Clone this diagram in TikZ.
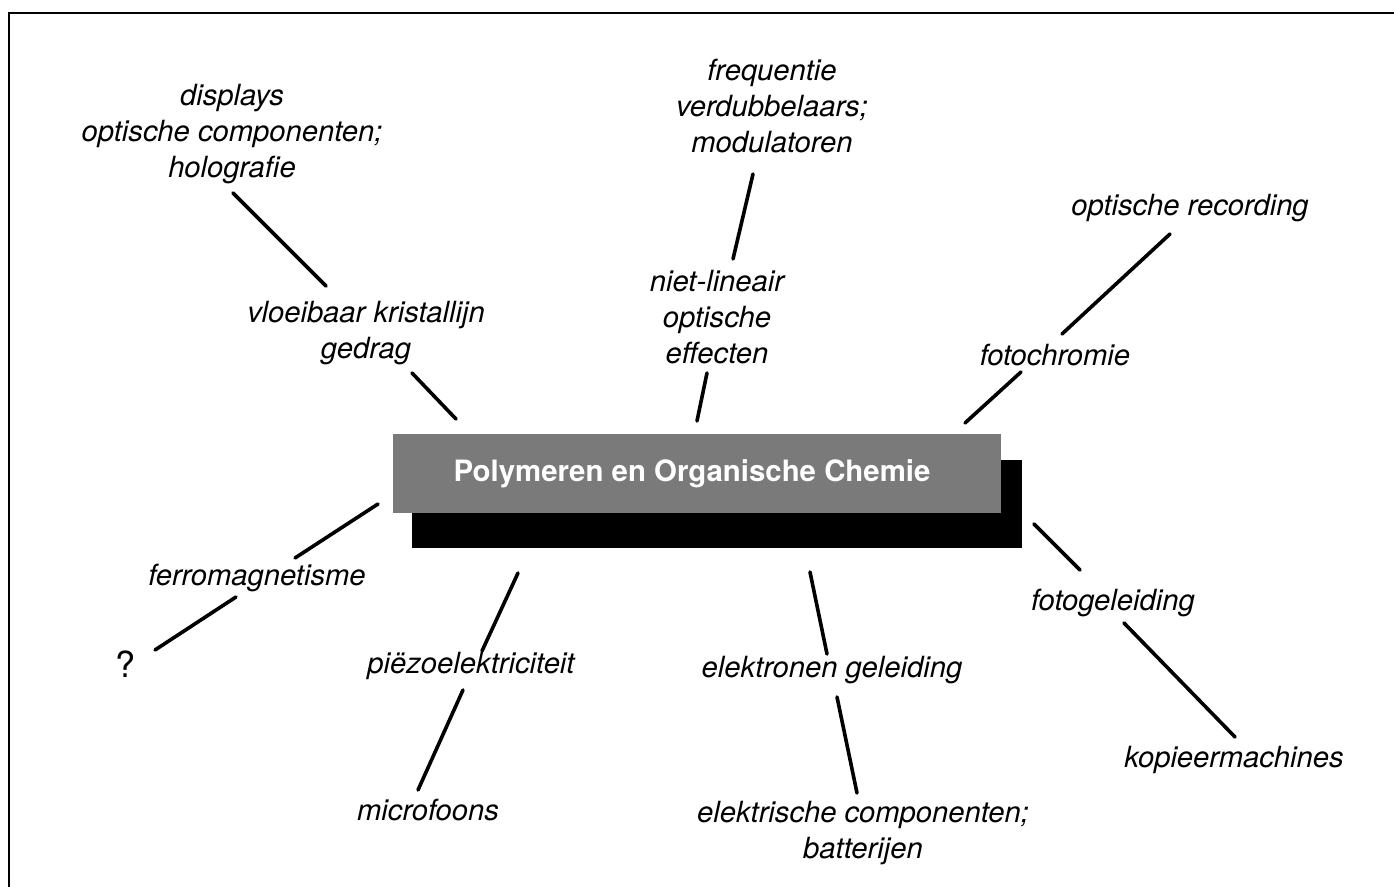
\documentclass[tikz,border=0pt]{standalone}
\usepackage{fontspec}
\setmainfont{TeX Gyre Heros}
\begin{document}
\begin{tikzpicture}[x=0.5pt,y=-0.5pt,
  lbl/.style={font=\fontsize{14.6}{18}\selectfont\itshape, align=center, inner sep=0pt},
  conn/.style={line width=1.8pt, line cap=round},
  frame/.style={line width=1pt}]
\useasboundingbox (0,0) rectangle (1394,887);
% frame
\coordinate (f1) at (9,887);
\coordinate (f2) at (9,13);
\coordinate (f3) at (1394,13);
\draw[frame] (f1) -- (f2) -- (f3);
% central box
\fill[black] (412,460) rectangle (1022,548);
\node[fill=black!52, minimum width=608*0.5pt, minimum height=79*0.5pt, inner sep=0pt,
  font=\fontsize{14.7}{17}\selectfont\bfseries, text=white] (box) at (697,473.5)
  {\hspace*{-5pt}Polymeren en Organische Chemie};
% labels
\node[lbl] (disp) at (232,134) {displays\\optische componenten;\\holografie};
\node[lbl] (vk) at (366,333) {vloeibaar kristallijn\\gedrag};
\node[lbl] (freq) at (772,106) {frequentie\\verdubbelaars;\\modulatoren};
\node[lbl] (nlo) at (717,317) {niet-lineair\\optische\\effecten};
\node[lbl] (orec) at (1190,208) {optische recording};
\node[lbl] (foto) at (1055,355) {fotochromie};
\node[lbl] (ferro) at (257,578) {ferromagnetisme};
\node[lbl, font=\fontsize{18}{20}\selectfont] (q) at (126,664) {?};
\node[lbl] (piezo) at (471,666) {pi\"ezoelektriciteit};
\node[lbl] (micro) at (428,810) {microfoons};
\node[lbl] (elg) at (832,670) {elektronen geleiding};
\node[lbl] (elc) at (863,833) {elektrische componenten;\\batterijen};
\node[lbl] (fgl) at (1113,603) {fotogeleiding};
\node[lbl] (kop) at (1234,760) {kopieermachines};
% connector end points
\coordinate (a1) at (233,193); \coordinate (a2) at (326,286);
\coordinate (b1) at (412,373); \coordinate (b2) at (456,419);
\coordinate (c1) at (753,174); \coordinate (c2) at (733,259);
\coordinate (d1) at (707,373); \coordinate (d2) at (697,421);
\coordinate (e1) at (1170,234); \coordinate (e2) at (1062,334);
\coordinate (g1) at (1021,372); \coordinate (g2) at (965,423);
\coordinate (h1) at (378,504); \coordinate (h2) at (295,558);
\coordinate (i1) at (236,597); \coordinate (i2) at (155,650);
\coordinate (j1) at (518,573); \coordinate (j2) at (482,651);
\coordinate (k1) at (463,690); \coordinate (k2) at (418,790);
\coordinate (l1) at (810,572); \coordinate (l2) at (827,654);
\coordinate (m1) at (837,697); \coordinate (m2) at (857,793);
\coordinate (n1) at (1034,524); \coordinate (n2) at (1080,570);
\coordinate (o1) at (1124,623); \coordinate (o2) at (1235,737);
\draw[conn] (a1) -- (a2);
\draw[conn] (b1) -- (b2);
\draw[conn] (c1) -- (c2);
\draw[conn] (d1) -- (d2);
\draw[conn] (e1) -- (e2);
\draw[conn] (g1) -- (g2);
\draw[conn] (h1) -- (h2);
\draw[conn] (i1) -- (i2);
\draw[conn] (j1) -- (j2);
\draw[conn] (k1) -- (k2);
\draw[conn] (l1) -- (l2);
\draw[conn] (m1) -- (m2);
\draw[conn] (n1) -- (n2);
\draw[conn] (o1) -- (o2);
\end{tikzpicture}
\end{document}
